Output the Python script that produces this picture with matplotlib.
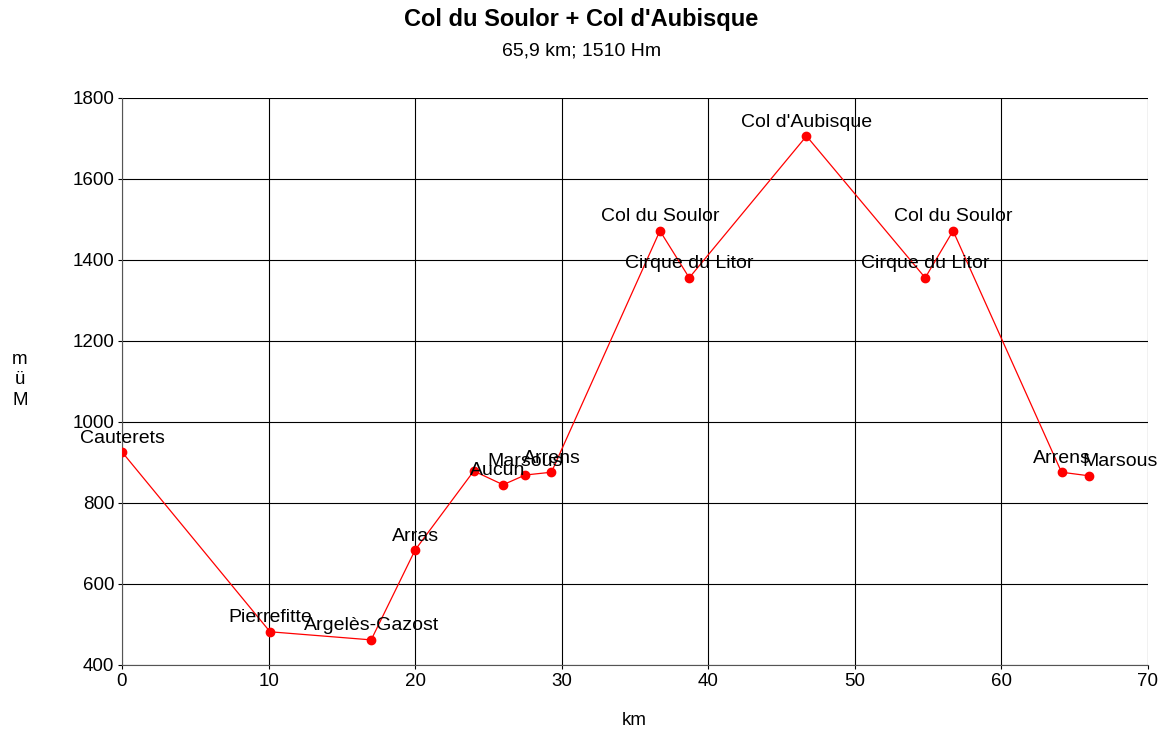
import matplotlib.pyplot as plt

# Streckenprofil: Distanz (km), Höhe (m ü M), Ortsname
km = [0.0, 10.1, 17.0, 20.0, 24.0, 26.0, 27.5, 29.3, 36.7, 38.7, 46.7, 54.8, 56.7, 64.1, 66.0]
hoehe = [926, 482, 462, 684, 879, 845, 869, 876, 1472, 1356, 1706, 1356, 1472, 876, 867]
orte = ['Cauterets', 'Pierrefitte', 'Argelès-Gazost', 'Arras', '', 'Aucun', 'Marsous',
        'Arrens', 'Col du Soulor', 'Cirque du Litor', "Col d'Aubisque", 'Cirque du Litor',
        'Col du Soulor', 'Arrens', 'Marsous']

plt.rcParams['font.family'] = ['Liberation Sans', 'DejaVu Sans']

fig = plt.figure(figsize=(11.63, 7.29), dpi=100)
ax = fig.add_axes([0.1049, 0.0878, 0.8822, 0.7778])

ax.plot(km, hoehe, color='red', linewidth=0.9, marker='o', markersize=6, zorder=3)

# kleine Verschiebungen der Beschriftung (in Punkten), wie im Original
shift = {5: -4, 14: 22}
for i, (x, y, name) in enumerate(zip(km, hoehe, orte)):
    if name:
        ax.annotate(name, (x, y), xytext=(shift.get(i, 0), 10), textcoords='offset points',
                    ha='center', va='center', fontsize=14, zorder=4)

ax.set_xlim(0, 70)
ax.set_ylim(400, 1800)
ax.set_xticks(range(0, 71, 10))
ax.set_yticks(range(400, 1801, 200))
ax.grid(True, color='black', linewidth=0.8)
ax.set_axisbelow(True)
for s in ['top', 'right']:
    ax.spines[s].set_visible(False)
ax.spines['left'].set_color('#555555')
ax.spines['bottom'].set_color('#555555')
ax.tick_params(axis='both', labelsize=13.5, length=3, direction='out', pad=2.5)

fig.text(0.5, 0.973, "Col du Soulor + Col d'Aubisque", ha='center', va='center',
         fontsize=17, fontweight='bold')
fig.text(0.5, 0.930, '65,9 km; 1510 Hm', ha='center', va='center', fontsize=14)
fig.text(0.017, 0.479, 'm\nü\nM', ha='center', va='center', fontsize=13.5, linespacing=1.25)
fig.text(0.545, 0.012, 'km', ha='center', va='center', fontsize=13.5)

fig.savefig('out.png', dpi=100)
